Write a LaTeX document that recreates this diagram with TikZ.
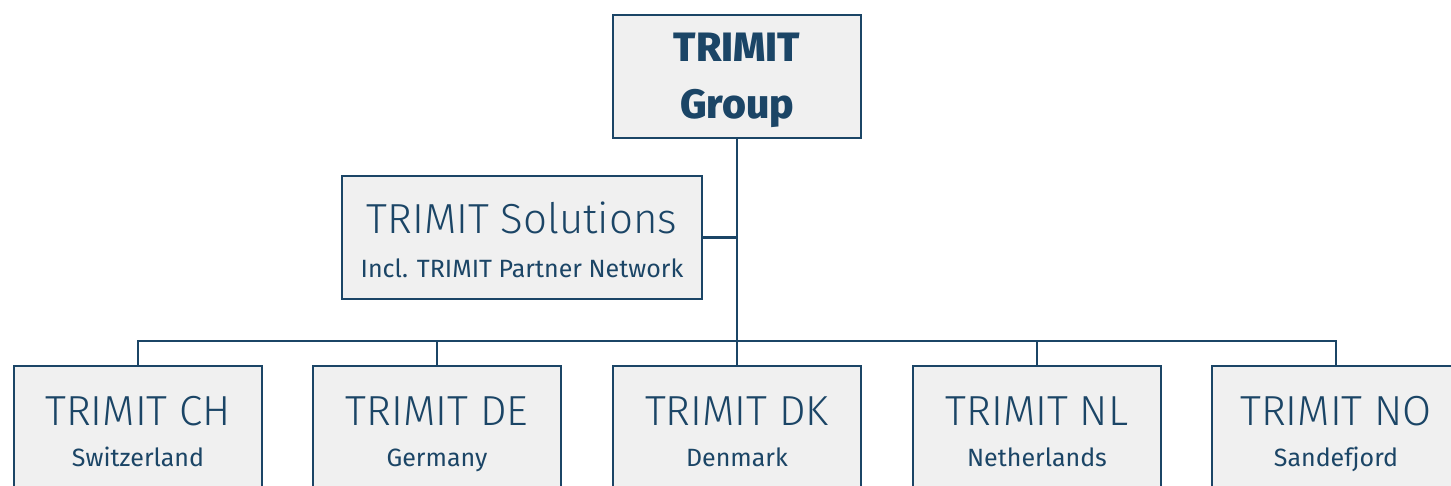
\documentclass[tikz,border=0pt]{standalone}
\usepackage{fontspec}
\setmainfont{Fira Sans}[UprightFont=* Light, BoldFont=* ExtraBold]
\newfontfamily\subfont{Fira Sans}
\definecolor{tblue}{HTML}{1B4566}
\definecolor{tfill}{HTML}{F0F0F0}
\tikzset{
  box/.style={draw=tblue, fill=tfill, line width=2.4pt, minimum height=123pt, inner sep=0pt},
  unit/.style={box, minimum width=248pt},
  ttl/.style={anchor=base, text=tblue, font=\fontsize{42}{50}\selectfont, inner sep=0pt},
  sub/.style={anchor=base, text=tblue, font=\subfont\fontsize{25}{30}\selectfont, inner sep=0pt},
  hdr/.style={anchor=base, text=tblue, font=\fontsize{41}{50}\selectfont\bfseries, inner sep=0pt},
  conn/.style={draw=tblue, line width=2.4pt, line join=miter},
}
\begin{document}
\begin{tikzpicture}[x=1pt,y=-1pt]
\useasboundingbox (0,0) rectangle (1451,486);
\clip (0,0) rectangle (1451,486);
% boxes
\node[unit] (top) at (737,76.5) {};
\node[box, minimum width=360pt] (sol) at (522,237.5) {};
\node[unit] (ch) at (138,427.5) {};
\node[unit] (de) at (437,427.5) {};
\node[unit] (dk) at (737,427.5) {};
\node[unit] (nl) at (1037,427.5) {};
\node[unit] (no) at (1336,427.5) {};
% connectors
\coordinate (bar) at (737,341);
\draw[conn] (top.south) -- (bar);
\draw[conn] (sol.east) -- (sol.east -| top.south);
\draw[conn] (ch.north) |- (bar);
\draw[conn] (de.north) |- (bar);
\draw[conn] (dk.north) -- (bar);
\draw[conn] (nl.north) |- (bar);
\draw[conn] (no.north) |- (bar);
% texts
\node[hdr] (t1) at (737,62) {TRIMIT};
\node[hdr] (t2) at (737,119) {Group};
\node[ttl] (s1) at (522,234) {TRIMIT Solutions};
\node[sub] (s2) at (522,278) {Incl. TRIMIT Partner Network};
\node[ttl] (ch1) at (138,425) {TRIMIT CH};
\node[sub] (ch2) at (138,466) {Switzerland};
\node[ttl] (de1) at (437,425) {TRIMIT DE};
\node[sub] (de2) at (437,466) {Germany};
\node[ttl] (dk1) at (737,425) {TRIMIT DK};
\node[sub] (dk2) at (737,466) {Denmark};
\node[ttl] (nl1) at (1037,425) {TRIMIT NL};
\node[sub] (nl2) at (1037,466) {Netherlands};
\node[ttl] (no1) at (1336,425) {TRIMIT NO};
\node[sub] (no2) at (1336,466) {Sandefjord};
\end{tikzpicture}
\end{document}
